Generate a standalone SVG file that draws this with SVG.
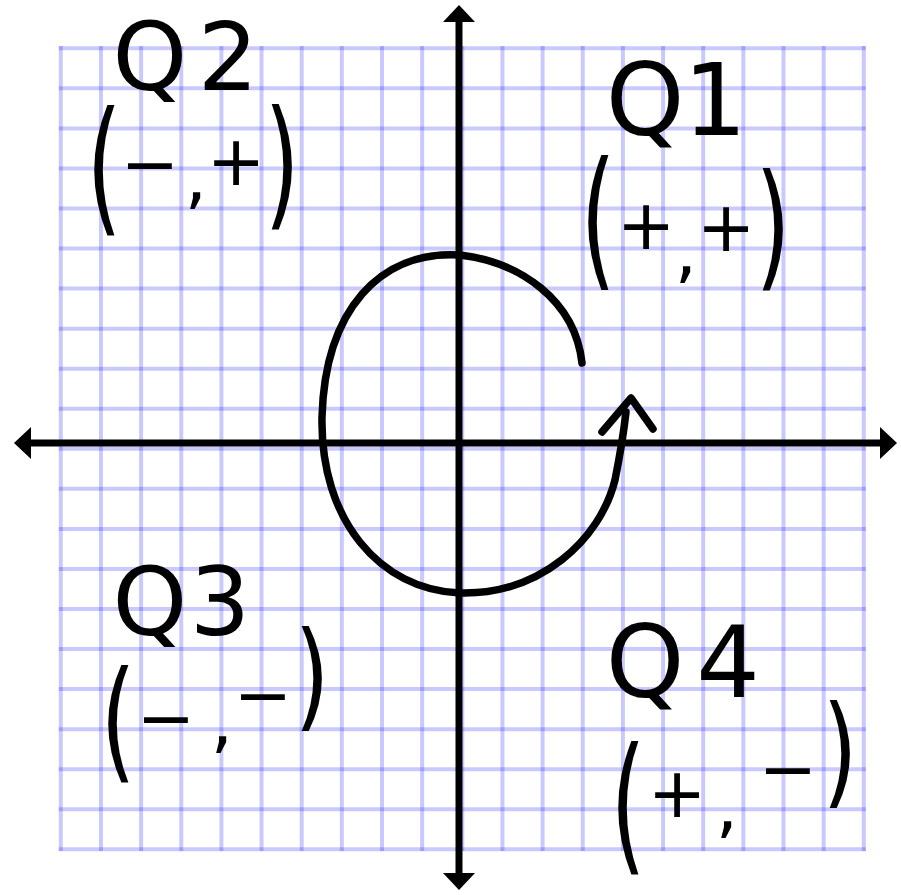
<svg xmlns="http://www.w3.org/2000/svg" width="901" height="895" viewBox="0 0 901 895">
<style>
.grid{stroke:#0000ff;stroke-opacity:0.21;stroke-width:4;fill:none}
.ax{stroke:#000;stroke-width:7;fill:none}
.ah{fill:#000}
.ink{stroke:#000;stroke-width:7.5;fill:none;stroke-linecap:round;stroke-linejoin:round}
.hw{font-family:"DejaVu Sans","Liberation Sans",sans-serif;fill:#000;text-anchor:middle}
.in{font-size:70px}
.pr{font-size:90px}
</style>
<rect width="901" height="895" fill="#fff"/>
<g id="grid">
<path class="grid" d="M60.8,46V851M100.95,46V851M141.1,46V851M181.25,46V851M221.4,46V851M261.55,46V851M301.7,46V851M341.85,46V851M382,46V851M422.15,46V851M462.3,46V851M502.45,46V851M542.6,46V851M582.75,46V851M622.9,46V851M663.05,46V851M703.2,46V851M743.35,46V851M783.5,46V851M823.65,46V851M863.8,46V851"/>
<path class="grid" d="M58.8,48.3H865.8M58.8,88.35H865.8M58.8,128.4H865.8M58.8,168.45H865.8M58.8,208.5H865.8M58.8,248.55H865.8M58.8,288.6H865.8M58.8,328.65H865.8M58.8,368.7H865.8M58.8,408.75H865.8M58.8,448.8H865.8M58.8,488.85H865.8M58.8,528.9H865.8M58.8,568.95H865.8M58.8,609H865.8M58.8,649.05H865.8M58.8,689.1H865.8M58.8,729.15H865.8M58.8,769.2H865.8M58.8,809.25H865.8M58.8,849.3H865.8"/>
</g>
<g id="axes">
<path class="ax" d="M459,18V876M28,443H884"/>
<polygon class="ah" points="459,5 443,22 475,22"/>
<polygon class="ah" points="459,890 443,873 475,873"/>
<polygon class="ah" points="14,443 31,427 31,459"/>
<polygon class="ah" points="897,443 880,427 880,459"/>
</g>
<g id="rotation">
<path class="ink" d="M582,363C575,300 520,262 460,255C380,250 325,310 322,417C320,520 380,590 460,593C540,595 600,540 615,480C620,455 624,430 626,412"/>
<polyline class="ink" points="602,432 631,398 653,429"/>
</g>
<g id="q1">
<text class="hw" font-size="100" x="645 715" y="135">Q1</text>
<text class="hw pr" transform="translate(598,270) scale(1,1.685)">(</text>
<text class="hw in" x="646 686 726" y="249 275 251">+,+</text>
<text class="hw pr" transform="translate(773,272) scale(1,1.52)">)</text>
</g>
<g id="q2">
<text class="hw" font-size="95" x="150 228" y="90">Q2</text>
<text class="hw pr" transform="translate(104,216) scale(1,1.62)">(</text>
<text class="hw in" x="150 196 236" y="188 201 185">−,+</text>
<text class="hw pr" transform="translate(282,211) scale(1,1.56)">)</text>
</g>
<g id="q3">
<text class="hw" font-size="95" x="150 220" y="635">Q3</text>
<text class="hw pr" transform="translate(118,765) scale(1,1.46)">(</text>
<text class="hw in" x="166 222 263" y="742 745 719">−,−</text>
<text class="hw pr" transform="translate(312,716) scale(1,1.3)">)</text>
</g>
<g id="q4">
<text class="hw" font-size="100" x="645 728" y="697">Q4</text>
<text class="hw pr" transform="translate(628,855) scale(1,1.66)">(</text>
<text class="hw in" x="677 727 788" y="817 830 793">+,−</text>
<text class="hw pr" transform="translate(840,792) scale(1,1.35)">)</text>
</g>
</svg>
